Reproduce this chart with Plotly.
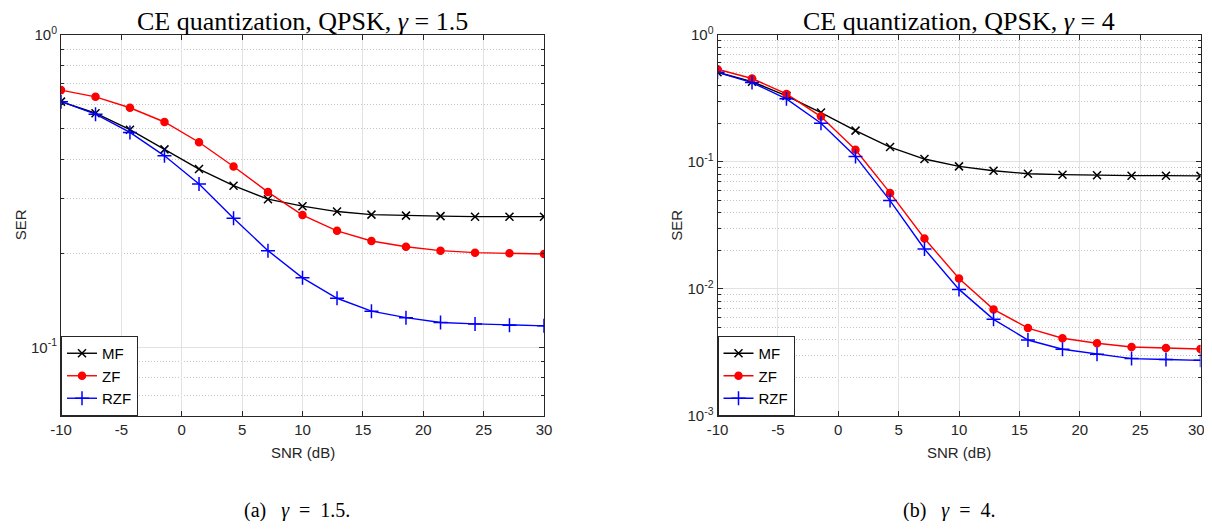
import numpy as np
import plotly.graph_objects as go

# ---------------- data ----------------
snr = [-10, -7.14, -4.29, -1.43, 1.43, 4.29, 7.14, 10, 12.86, 15.71, 18.57, 21.43, 24.29, 27.14, 30]

# gamma = 1.5
mf_a = [0.611, 0.561, 0.497, 0.430, 0.372, 0.329, 0.298, 0.283, 0.272, 0.266, 0.264, 0.263, 0.262, 0.262, 0.262]
zf_a = [0.665, 0.633, 0.584, 0.526, 0.453, 0.379, 0.314, 0.265, 0.236, 0.219, 0.210, 0.204, 0.201, 0.200, 0.199]
rzf_a = [0.611, 0.557, 0.487, 0.410, 0.333, 0.259, 0.204, 0.167, 0.1437, 0.1307, 0.1246, 0.1202, 0.1190, 0.1179, 0.1173]

# gamma = 4
mf_b = [0.506, 0.427, 0.330, 0.244, 0.176, 0.1306, 0.1051, 0.0920, 0.0851, 0.0806, 0.0792, 0.0783, 0.0778, 0.0778, 0.0775]
zf_b = [0.535, 0.452, 0.342, 0.227, 0.1244, 0.0569, 0.0249, 0.01209, 0.00690, 0.00492, 0.00409, 0.00374, 0.00349, 0.00343, 0.00337]
rzf_b = [0.506, 0.420, 0.313, 0.201, 0.1102, 0.0495, 0.0206, 0.00991, 0.00576, 0.00396, 0.00335, 0.00306, 0.00283, 0.00278, 0.00274]

series_names = ["MF", "ZF", "RZF"]
titles = ["CE quantization, QPSK, <i>\u03b3</i> = 1.5", "CE quantization, QPSK, <i>\u03b3</i> = 4"]
NB = "\u00a0"
captions = ["(a)" + NB * 3 + "<i>\u03b3</i>" + NB * 2 + "=" + NB * 2 + "1.5.",
            "(b)" + NB * 3 + "<i>\u03b3</i>" + NB * 2 + "=" + NB * 2 + "4."]
x_ticks = [-10, -5, 0, 5, 10, 15, 20, 25, 30]
x_ticktext = [str(t) for t in x_ticks]

# page has an 8px body margin: figure is sized to fit inside the 1212x529 window
OFF = 8
W, H = 1212 - 2 * OFF, 529 - 2 * OFF
def px_x(p): return (p - OFF) / W
def px_y(p): return 1 - (p - OFF) / H

fig = go.Figure()

styles = [
    dict(color="black", symbol="x-thin", size=8),
    dict(color="#ff0000", symbol="circle", size=7),
    dict(color="#0000ff", symbol="cross-thin", size=10),
]

data_sets = [(mf_a, zf_a, rzf_a), (mf_b, zf_b, rzf_b)]
for k, ds in enumerate(data_sets):
    xa = "x" if k == 0 else "x2"
    ya = "y" if k == 0 else "y2"
    lg = "legend" if k == 0 else "legend2"
    for name, vals, st in zip(series_names, ds, styles):
        fig.add_trace(go.Scatter(
            x=snr, y=vals, name=name, mode="lines+markers",
            xaxis=xa, yaxis=ya, legend=lg,
            line=dict(color=st["color"], width=1.4),
            marker=dict(symbol=st["symbol"], size=st["size"], color=st["color"],
                        line=dict(color=st["color"], width=1.5)),
        ))

axis_col = "#262626"
major_grid = "#e2e2e2"
minor_grid = "#c4c4c4"
sans = "Liberation Sans, Arial, Helvetica"
serif = "Liberation Serif, Times New Roman, serif"
tick_font = dict(family=sans, size=15, color=axis_col)

L_A, R_A = 61, 544
L_B, R_B = 717.5, 1200.5
TOP, BOT = 34.7, 416

def xaxis_cfg(dom, anchor, labels):
    return dict(domain=dom, anchor=anchor, range=[-10, 30], tickvals=x_ticks,
                ticktext=labels, automargin=False, ticklabeloverflow="allow",
                showline=True, linecolor=axis_col, linewidth=1, mirror="ticks",
                ticks="inside", ticklen=5, tickcolor=axis_col,
                showgrid=True, gridcolor=major_grid, gridwidth=1, zeroline=False,
                tickfont=tick_font)

def yaxis_cfg(anchor, lo, decades):
    majors = [10.0 ** d for d in decades]
    minors = []
    for d in range(min(decades) - 1, max(decades)):
        for m in range(2, 10):
            v = m * 10.0 ** d
            if v >= lo * 0.999 and v < 1:
                minors.append(v)
    return dict(domain=[px_y(BOT), px_y(TOP)], anchor=anchor, type="log", range=[np.log10(lo), 0],
                tickvals=majors, ticktext=["10<sup>%d</sup>" % d for d in decades],
                automargin=False,
                showline=True, linecolor=axis_col, linewidth=1, mirror="ticks",
                ticks="inside", ticklen=5, tickcolor=axis_col,
                showgrid=True, gridcolor=major_grid, gridwidth=1, zeroline=False,
                tickfont=tick_font,
                minor=dict(tickvals=minors, ticks="inside", ticklen=3, tickcolor=axis_col,
                           showgrid=True, gridcolor=minor_grid, griddash="1px,2px", gridwidth=1))

legend_common = dict(font=dict(family=sans, size=15, color="black"),
                     bgcolor="white", bordercolor=axis_col, borderwidth=1,
                     xanchor="left", yanchor="bottom", itemwidth=30, tracegroupgap=0)

annotations = []
for (l, r), t, c, dx in zip([(L_A, R_A), (L_B, R_B)], titles, captions, [-6, -10]):
    cx = (l + r) / 2
    annotations.append(dict(text=t, x=px_x(cx), y=px_y(21), xref="paper", yref="paper",
                            showarrow=False, xanchor="center", yanchor="middle",
                            font=dict(family=serif, size=26, color="black")))
    annotations.append(dict(text=c, x=px_x(cx + dx), y=px_y(510), xref="paper", yref="paper",
                            showarrow=False, xanchor="center", yanchor="middle",
                            font=dict(family=serif, size=20, color="black")))
    annotations.append(dict(text="SNR (dB)", x=px_x(cx), y=px_y(452), xref="paper", yref="paper",
                            showarrow=False, xanchor="center", yanchor="middle",
                            font=dict(family=sans, size=15, color=axis_col)))
    annotations.append(dict(text="SER", x=px_x(l - 41), y=px_y((TOP + BOT) / 2), xref="paper", yref="paper",
                            showarrow=False, xanchor="center", yanchor="middle", textangle=-90,
                            font=dict(family=sans, size=15, color=axis_col)))

# last label of the right panel nudged left so it stays inside the page
x_ticktext_b = x_ticktext[:-1] + [x_ticktext[-1] + NB * 2]

fig.update_layout(
    width=W, height=H, margin=dict(l=0, r=0, t=0, b=0),
    paper_bgcolor="white", plot_bgcolor="white",
    xaxis=xaxis_cfg([px_x(L_A), px_x(R_A)], "y", x_ticktext), yaxis=yaxis_cfg("x", 0.0604, [-1, 0]),
    xaxis2=xaxis_cfg([px_x(L_B), px_x(R_B)], "y2", x_ticktext_b), yaxis2=yaxis_cfg("x2", 0.001, [-3, -2, -1, 0]),
    legend=dict(x=px_x(L_A), y=px_y(BOT), **legend_common),
    legend2=dict(x=px_x(L_B), y=px_y(BOT), **legend_common),
    annotations=annotations,
    showlegend=True,
)

fig.write_html("out.html")
